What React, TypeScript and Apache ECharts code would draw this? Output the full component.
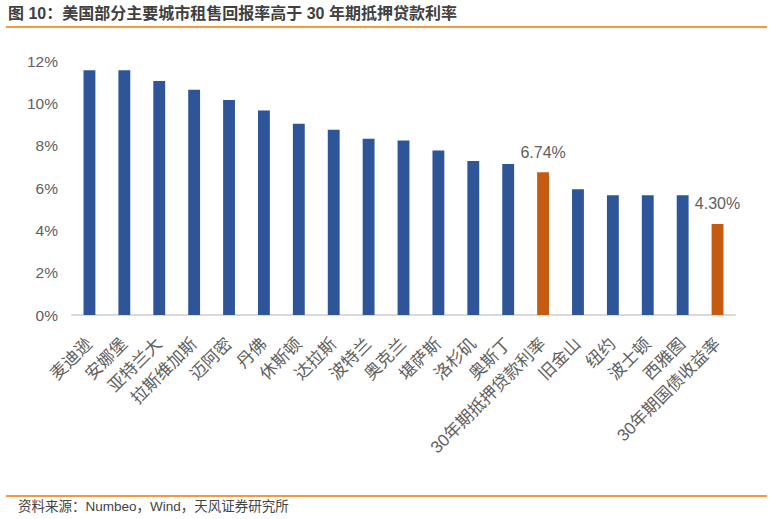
import React, { useEffect, useRef } from "react";
import * as echarts from "echarts";

const categories = [
  "麦迪逊", "安娜堡", "亚特兰大", "拉斯维加斯", "迈阿密", "丹佛", "休斯顿", "达拉斯",
  "波特兰", "奥克兰", "堪萨斯", "洛杉矶", "奥斯丁", "30年期抵押贷款利率",
  "旧金山", "纽约", "波士顿", "西雅图", "30年期国债收益率",
];
const values = [
  11.56, 11.56, 11.06, 10.64, 10.16, 9.66, 9.03, 8.75, 8.33, 8.25, 7.77, 7.27, 7.13, 6.74,
  5.94, 5.66, 5.66, 5.66, 4.3,
];
const highlighted = ["30年期抵押贷款利率", "30年期国债收益率"];
const yTicks = { min: 0, max: 12, interval: 2 };
const titleText = "图 10：美国部分主要城市租售回报率高于 30 年期抵押贷款利率";
const sourceText = "资料来源：Numbeo，Wind，天风证券研究所";

const FONT = "'Liberation Sans', 'Noto Sans CJK SC', sans-serif";

export default function App() {
  const ref = useRef<HTMLDivElement>(null);
  useEffect(() => {
    document.body.style.margin = "0";
    const chart = echarts.init(ref.current!, null, { renderer: "svg" });
    chart.setOption({
      animation: false,
      backgroundColor: "#ffffff",
      textStyle: { fontFamily: FONT },
      grid: { left: 72, right: 38, top: 61, bottom: 204, containLabel: false },
      graphic: [
        {
          type: "text",
          left: 8,
          top: 5,
          style: { text: titleText, fontSize: 16, fontWeight: "bold", fill: "#404040", fontFamily: FONT },
        },
        {
          type: "line",
          shape: { x1: 6, y1: 27, x2: 767, y2: 27 },
          style: { stroke: "#F39A3C", lineWidth: 2 },
        },
        {
          type: "line",
          shape: { x1: 6, y1: 496, x2: 767, y2: 496 },
          style: { stroke: "#F39A3C", lineWidth: 2 },
        },
        {
          type: "text",
          left: 18,
          top: 500,
          style: { text: sourceText, fontSize: 13.5, fill: "#444444", fontFamily: FONT },
        },
      ],
      xAxis: {
        type: "category",
        data: categories,
        axisLine: { lineStyle: { color: "#d9d9d9", width: 2 } },
        axisTick: { show: false },
        axisLabel: {
          rotate: 45,
          interval: 0,
          fontSize: 17,
          color: "#606060",
          margin: 26,
          fontFamily: FONT,
        },
      },
      yAxis: {
        type: "value",
        min: yTicks.min,
        max: yTicks.max,
        interval: yTicks.interval,
        splitLine: { show: false },
        axisLine: { show: false },
        axisTick: { show: false },
        axisLabel: { formatter: "{value}%", fontSize: 15.5, color: "#606060", margin: 14, fontFamily: FONT },
      },
      series: [
        {
          type: "bar",
          barWidth: "34%",
          data: values.map((v, i) => {
            const hi = highlighted.includes(categories[i]);
            return {
              value: v,
              itemStyle: { color: hi ? "#C55A11" : "#2E5597" },
              label: hi
                ? {
                    show: true,
                    position: "top",
                    distance: 12,
                    formatter: (p: any) => p.value.toFixed(2) + "%",
                    fontSize: 16,
                    color: "#606060",
                    fontFamily: FONT,
                  }
                : { show: false },
            };
          }),
        },
      ],
    });
    return () => chart.dispose();
  }, []);
  return <div ref={ref} style={{ width: 773, height: 519 }} />;
}
